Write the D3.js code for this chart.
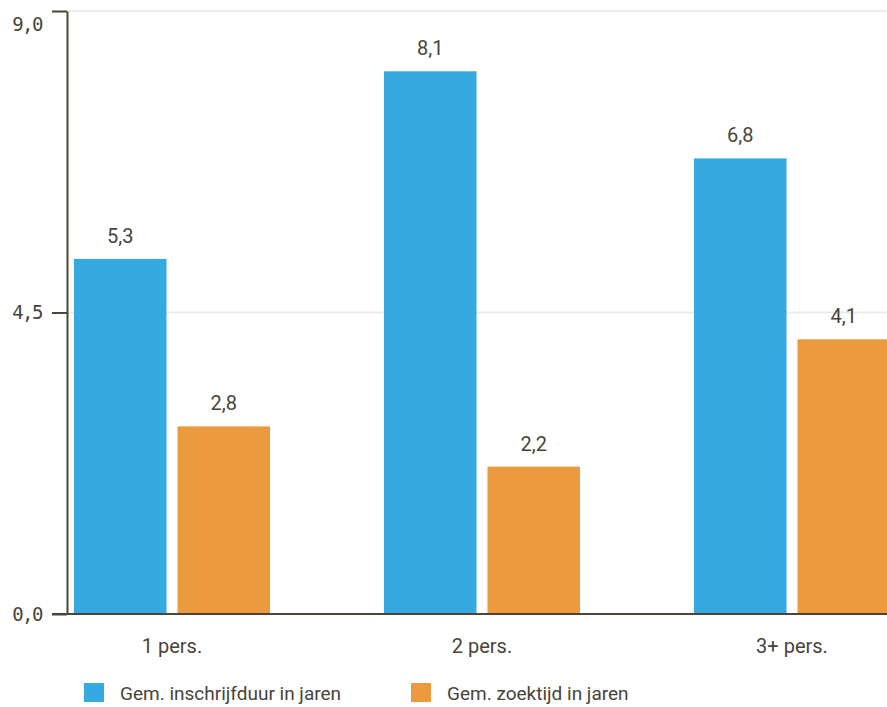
<!DOCTYPE html>
<html>
<head>
<meta charset="utf-8">
<script src="https://cdn.jsdelivr.net/npm/d3@7"></script>
<style>
  body { margin: 0; background: #fff; }
  svg { display: block; }
</style>
</head>
<body>
<svg></svg>
<script>
const categories = ['1 pers.', '2 pers.', '3+ pers.'],
      seriesNames = ['Gem. inschrijfduur in jaren', 'Gem. zoektijd in jaren'],
      inschrijfduur = [5.3, 8.1, 6.8],
      zoektijd = [2.8, 2.2, 4.1],
      yTicks = [0, 4.5, 9];

const width = 887,
      height = 707,
      colors = ['#36a9e0', '#ec9a3e'],
      ink = '#48443a',
      axisColor = '#4a4538',
      series = [inschrijfduur, zoektijd],
      data = categories.map((c, i) => ({
        cat: c,
        values: series.map((s, k) => ({ key: seriesNames[k], value: s[i], k: k }))
      })),
      fmt = (v) => d3.format('.1f')(v).replace('.', ','),
      yScale = d3.scaleLinear()
                 .domain([0, 9])
                 .range([614, 11]),
      x0 = d3.scaleBand()
             .domain(categories)
             .range([17, 947]),
      x1 = d3.scaleBand()
             .domain(seriesNames)
             .range([57, 253])
             .paddingInner(0.106);

const svg = d3.select('svg')
    .attr('width', width)
    .attr('height', height)
    .style('font-family', 'Roboto, sans-serif');

// grid lines
svg.append('g')
  .selectAll('line')
  .data(yTicks.filter((t) => t > 0))
  .enter()
  .append('line')
    .attr('x1', 67)
    .attr('x2', width)
    .attr('y1', (d) => yScale(d))
    .attr('y2', (d) => yScale(d))
    .attr('stroke', '#ebebeb')
    .attr('stroke-width', 2);

// bars
const groups = svg.append('g')
  .selectAll('g')
  .data(data)
  .enter()
  .append('g')
    .attr('transform', (d) => `translate(${x0(d.cat)}, 0)`);

groups.selectAll('rect')
  .data((d) => d.values)
  .enter()
  .append('rect')
    .attr('x', (d) => x1(d.key))
    .attr('y', (d) => yScale(d.value))
    .attr('width', x1.bandwidth())
    .attr('height', (d) => yScale(0) - yScale(d.value))
    .attr('fill', (d) => colors[d.k]);

groups.selectAll('text')
  .data((d) => d.values)
  .enter()
  .append('text')
    .text((d) => fmt(d.value))
    .attr('x', (d) => x1(d.key) + x1.bandwidth() / 2)
    .attr('y', (d) => yScale(d.value) - 16)
    .attr('text-anchor', 'middle')
    .attr('fill', ink)
    .style('font-size', '20px');

// baseline
svg.append('line')
    .attr('x1', 52)
    .attr('x2', width)
    .attr('y1', yScale(0))
    .attr('y2', yScale(0))
    .attr('stroke', axisColor)
    .attr('stroke-width', 2);

// y axis
const yAxis = d3.axisLeft(yScale)
                .tickValues(yTicks)
                .tickFormat(fmt)
                .tickSize(15)
                .tickSizeOuter(0)
                .tickPadding(10);

const yG = svg.append('g')
    .attr('transform', 'translate(67, 0)')
    .call(yAxis);

yG.select('.domain')
    .attr('stroke', axisColor)
    .attr('stroke-width', 2);
yG.selectAll('.tick line')
    .attr('stroke', axisColor)
    .attr('stroke-width', 2);
yG.selectAll('.tick text')
    .attr('fill', ink)
    .style('font-family', '"DejaVu Sans Mono", monospace')
    .style('font-size', '19px')
    .style('letter-spacing', '-1.5px');
// top label sits below its tick in the original
yG.selectAll('.tick text')
  .filter((d) => d === 9)
    .attr('dy', '1em');

// category labels
svg.append('g')
  .selectAll('text')
  .data(categories)
  .enter()
  .append('text')
    .text((d) => d)
    .attr('x', (d) => x0(d) + x0.bandwidth() / 2)
    .attr('y', 653)
    .attr('text-anchor', 'middle')
    .attr('fill', ink)
    .style('font-size', '20px');

// legend
const legend = svg.append('g')
  .selectAll('g')
  .data(seriesNames)
  .enter()
  .append('g')
    .attr('transform', (d, i) => `translate(${84 + i * 327}, 683)`);

legend.append('rect')
    .attr('width', 20)
    .attr('height', 19)
    .attr('fill', (d, i) => colors[i]);

legend.append('text')
    .text((d) => d)
    .attr('x', 36)
    .attr('y', 17)
    .attr('fill', ink)
    .style('font-size', '19px');
</script>
</body>
</html>
